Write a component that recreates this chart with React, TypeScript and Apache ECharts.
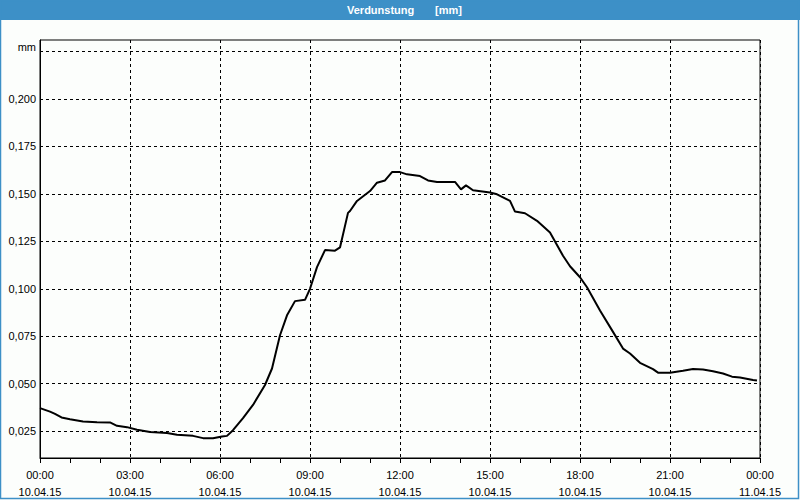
import React, { useEffect, useRef } from "react";
import * as echarts from "echarts";

const times: string[] = [
  "00:00", "00:20", "00:30", "00:43", "01:00", "01:26", "01:54", "02:20", "02:34", "02:54",
  "03:14", "03:40", "04:14", "04:34", "05:06", "05:26", "05:46", "06:04", "06:14", "06:26",
  "06:46", "07:06", "07:30", "07:44", "08:00", "08:14", "08:30", "08:50", "09:00", "09:14",
  "09:30", "09:50", "10:00", "10:16", "10:20", "10:34", "11:00", "11:14", "11:30", "11:44",
  "12:00", "12:14", "12:40", "12:56", "13:14", "13:50", "14:02", "14:12", "14:26", "15:00",
  "15:14", "15:40", "15:50", "16:10", "16:34", "17:00", "17:26", "17:40", "18:00", "18:14",
  "18:40", "19:06", "19:26", "19:40", "20:00", "20:26", "20:36", "21:00", "21:26", "21:46",
  "22:06", "22:26", "22:46", "23:04", "23:20", "23:46", "23:54",
];

const values: number[] = [
  0.0371, 0.0353, 0.0341, 0.0322, 0.0313, 0.0301, 0.0297, 0.0296, 0.0278, 0.0271,
  0.0257, 0.0245, 0.0240, 0.0231, 0.0225, 0.0213, 0.0212, 0.0222, 0.0225, 0.0255,
  0.0318, 0.0388, 0.0493, 0.0580, 0.0755, 0.0860, 0.0935, 0.0942, 0.1000, 0.1114,
  0.1204, 0.1201, 0.1218, 0.1400, 0.1410, 0.1463, 0.1515, 0.1559, 0.1571, 0.1615,
  0.1615, 0.1603, 0.1594, 0.1571, 0.1563, 0.1563, 0.1524, 0.1545, 0.1519, 0.1507,
  0.1498, 0.1463, 0.1407, 0.1398, 0.1358, 0.1297, 0.1174, 0.1119, 0.1061, 0.1008,
  0.0886, 0.0773, 0.0685, 0.0659, 0.0610, 0.0577, 0.0558, 0.0558, 0.0568, 0.0577,
  0.0575, 0.0566, 0.0554, 0.0537, 0.0533, 0.0519, 0.0517,
];

const yTicks: number[] = [0.025, 0.05, 0.075, 0.1, 0.125, 0.15, 0.175, 0.2, 0.225];
const yUnitLabel = "mm";
const xHourTicks: number[] = [0, 3, 6, 9, 12, 15, 18, 21, 24];
const dayLabels: string[] = ["10.04.15", "11.04.15"];
const titleMain = "Verdunstung";
const titleUnit = "[mm]";

const FONT = "'Liberation Sans', Arial, sans-serif";

function toHours(t: string): number {
  const [h, m] = t.split(":").map(Number);
  return h + m / 60;
}

export default function App() {
  const ref = useRef<HTMLDivElement>(null);

  useEffect(() => {
    if (!ref.current) return;
    const chart = echarts.init(ref.current, undefined, { renderer: "svg" });
    const data = times.map((t, i) => [toHours(t), values[i]]);
    const pad = (n: number) => (n < 10 ? "0" + n : "" + n);

    chart.setOption({
      animation: false,
      backgroundColor: "#fcfefc",
      textStyle: { fontFamily: FONT },
      graphic: [
        {
          type: "rect",
          shape: { x: 0, y: 0, width: 800, height: 20 },
          style: { fill: "#3d90c7" },
          silent: true,
        },
        {
          type: "rect",
          shape: { x: 0.5, y: 0.5, width: 798, height: 498 },
          style: { fill: "none", stroke: "#3d90c7", lineWidth: 1.5 },
          silent: true,
        },
        {
          type: "text",
          x: 347,
          y: 10,
          style: {
            text: titleMain,
            fill: "#ffffff",
            font: `bold 11px ${FONT}`,
            verticalAlign: "middle",
          },
        },
        {
          type: "text",
          x: 435,
          y: 10,
          style: {
            text: titleUnit,
            fill: "#ffffff",
            font: `bold 11px ${FONT}`,
            verticalAlign: "middle",
          },
        },
      ],
      grid: {
        left: 40,
        right: 40,
        top: 40,
        bottom: 40,
        show: true,
        borderColor: "#000",
        borderWidth: 1,
        backgroundColor: "#fcfefc",
      },
      xAxis: {
        type: "value",
        min: 0,
        max: 24,
        interval: 3,
        axisLine: { show: true, lineStyle: { color: "#000", width: 1 } },
        axisTick: { show: true, inside: false, length: 5, lineStyle: { color: "#000" } },
        minorTick: { show: true, splitNumber: 3, length: 5, lineStyle: { color: "#000" } },
        splitLine: { show: true, lineStyle: { color: "#000", type: [3, 3], width: 1 } },
        axisLabel: {
          color: "#000",
          fontSize: 11,
          fontFamily: FONT,
          lineHeight: 17,
          margin: 8,
          customValues: xHourTicks,
          formatter: (v: number) => {
            const h = Math.round(v) % 24;
            const day = v >= 24 ? dayLabels[1] : dayLabels[0];
            return `${pad(h)}:00\n${day}`;
          },
        },
      },
      yAxis: {
        type: "value",
        min: 0.01084,
        max: 0.2311,
        axisLine: { show: true, lineStyle: { color: "#000", width: 1 } },
        axisTick: { show: false, customValues: yTicks },
        splitLine: { show: true, lineStyle: { color: "#000", type: [3, 3], width: 1 } },
        axisLabel: {
          color: "#000",
          fontSize: 11,
          fontFamily: FONT,
          margin: 4,
          customValues: yTicks,
          formatter: (v: number) =>
            Math.abs(v - yTicks[yTicks.length - 1]) < 1e-6
              ? `{u|${yUnitLabel}}`
              : v.toFixed(3).replace(".", ","),
          rich: {
            u: {
              color: "#000",
              fontSize: 11,
              fontFamily: FONT,
              padding: [0, 0, 10, 0],
            },
          },
        },
      },
      series: [
        {
          type: "line",
          data,
          showSymbol: false,
          symbol: "none",
          lineStyle: { color: "#000", width: 2 },
          silent: true,
        },
      ],
    });

    return () => chart.dispose();
  }, []);

  return (
    <div
      ref={ref}
      style={{ position: "fixed", left: 0, top: 0, width: 800, height: 500 }}
    />
  );
}
